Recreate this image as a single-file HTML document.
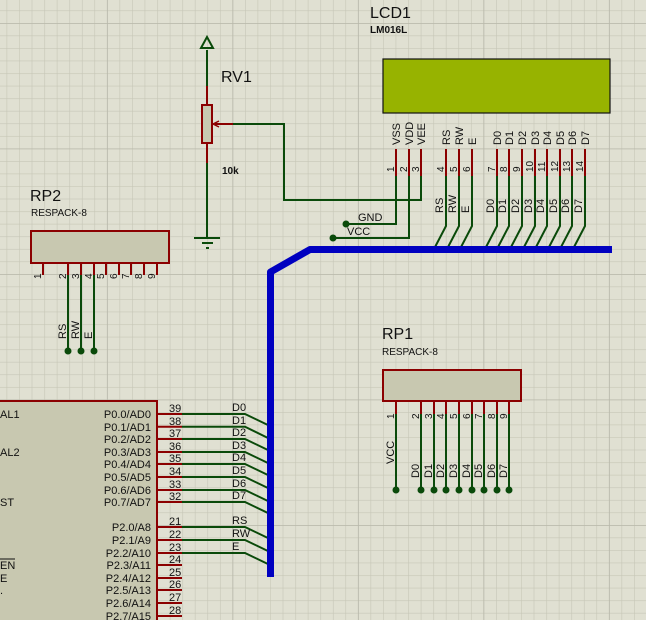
<!DOCTYPE html>
<html><head><meta charset="utf-8"><style>
html,body{margin:0;padding:0;background:#e0e0d2}
svg{display:block}
text{font-family:"Liberation Sans",sans-serif;fill:#111}
</style></head><body>
<svg width="646" height="620" viewBox="0 0 646 620" xmlns="http://www.w3.org/2000/svg">
<defs>
<pattern id="g" x="6.6" y="10.45" width="12.55" height="12.55" patternUnits="userSpaceOnUse">
<path d="M0 0H12.55M0 0V12.55" stroke="#c6c6b6" stroke-width="1.2" fill="none"/>
</pattern>
<pattern id="G" x="106.9" y="23" width="125.5" height="125.5" patternUnits="userSpaceOnUse">
<path d="M0 0H125.5M0 0V125.5" stroke="#b8b8aa" stroke-width="1.6" fill="none"/>
</pattern>
</defs>
<rect width="646" height="620" fill="#e0e0d2"/>
<rect width="646" height="620" fill="url(#g)"/>
<rect width="646" height="620" fill="url(#G)"/>

<!-- LCD -->
<text x="370" y="18" font-size="16">LCD1</text>
<text x="370" y="33" font-size="10" font-weight="bold" fill="#222">LM016L</text>
<rect x="383" y="59" width="227" height="54" fill="#97b300" stroke="#111" stroke-width="1.2"/>
<g stroke="#8b0000" stroke-width="2">
<path d="M396 149V176M409 149V176M421 149V176M446 149V176M459 149V176M472 149V176M497 149V176M509 149V176M522 149V176M535 149V176M547 149V176M560 149V176M572 149V176M585 149V176"/>
</g>
<g font-size="11">
<text transform="translate(400,145) rotate(-90)">VSS</text>
<text transform="translate(413,145) rotate(-90)">VDD</text>
<text transform="translate(425,145) rotate(-90)">VEE</text>
<text transform="translate(450,145) rotate(-90)">RS</text>
<text transform="translate(463,145) rotate(-90)">RW</text>
<text transform="translate(476,145) rotate(-90)">E</text>
<text transform="translate(501,145) rotate(-90)">D0</text>
<text transform="translate(513,145) rotate(-90)">D1</text>
<text transform="translate(526,145) rotate(-90)">D2</text>
<text transform="translate(539,145) rotate(-90)">D3</text>
<text transform="translate(551,145) rotate(-90)">D4</text>
<text transform="translate(564,145) rotate(-90)">D5</text>
<text transform="translate(576,145) rotate(-90)">D6</text>
<text transform="translate(589,145) rotate(-90)">D7</text>
</g>
<g font-size="10">
<text transform="translate(394,172) rotate(-90)">1</text>
<text transform="translate(407,172) rotate(-90)">2</text>
<text transform="translate(419,172) rotate(-90)">3</text>
<text transform="translate(444,172) rotate(-90)">4</text>
<text transform="translate(457,172) rotate(-90)">5</text>
<text transform="translate(470,172) rotate(-90)">6</text>
<text transform="translate(495,172) rotate(-90)">7</text>
<text transform="translate(507,172) rotate(-90)">8</text>
<text transform="translate(520,172) rotate(-90)">9</text>
<text transform="translate(533,172) rotate(-90)">10</text>
<text transform="translate(545,172) rotate(-90)">11</text>
<text transform="translate(558,172) rotate(-90)">12</text>
<text transform="translate(570,172) rotate(-90)">13</text>
<text transform="translate(583,172) rotate(-90)">14</text>
</g>
<g stroke="#0a4a0a" stroke-width="2" fill="none">
<path d="M396 176V224H346M409 176V238H333M421 176V200H284V124H233"/>
<path d="M446 176V226L434 249M459 176V226L447 249M472 176V226L460 249M497 176V226L485 249M509 176V226L497 249M522 176V226L510 249M535 176V226L523 249M547 176V226L535 249M560 176V226L548 249M572 176V226L560 249M585 176V226L573 249"/>
</g>
<g font-size="11">
<text transform="translate(443,213) rotate(-90)">RS</text>
<text transform="translate(456,213) rotate(-90)">RW</text>
<text transform="translate(469,213) rotate(-90)">E</text>
<text transform="translate(494,213) rotate(-90)">D0</text>
<text transform="translate(506,213) rotate(-90)">D1</text>
<text transform="translate(519,213) rotate(-90)">D2</text>
<text transform="translate(532,213) rotate(-90)">D3</text>
<text transform="translate(544,213) rotate(-90)">D4</text>
<text transform="translate(557,213) rotate(-90)">D5</text>
<text transform="translate(569,213) rotate(-90)">D6</text>
<text transform="translate(582,213) rotate(-90)">D7</text>
</g>
<circle cx="346" cy="224" r="3.5" fill="#0a4a0a"/>
<circle cx="333" cy="238" r="3.5" fill="#0a4a0a"/>
<text x="358" y="221" font-size="11">GND</text>
<text x="347" y="235" font-size="11">VCC</text>

<!-- RV1 -->
<text x="221" y="82" font-size="16">RV1</text>
<text x="222" y="174" font-size="10" font-weight="bold" fill="#222">10k</text>
<path d="M207 50V86M207 163V238" stroke="#0a4a0a" stroke-width="2"/>
<path d="M207 86V105M207 143V163M215 124H233" stroke="#8b0000" stroke-width="2"/>
<path d="M207 37L201 48H213Z" fill="none" stroke="#0a4a0a" stroke-width="2"/>
<rect x="202" y="105" width="10" height="38" fill="#c8c8b0" stroke="#8b0000" stroke-width="2"/>
<path d="M213 124L219 121M213 124L219 127" stroke="#8b0000" stroke-width="1.5"/>
<path d="M194 238H220M202 243H213M206 248H209" stroke="#0a4a0a" stroke-width="2"/>

<!-- RP2 -->
<text x="30" y="201" font-size="16">RP2</text>
<text x="31" y="216" font-size="10" fill="#222">RESPACK-8</text>
<rect x="31" y="231" width="138" height="32" fill="#c8c8b0" stroke="#8b0000" stroke-width="2"/>
<path d="M43 263V275M68 263V275M81 263V275M94 263V275M106 263V275M119 263V275M131 263V275M144 263V275M157 263V275" stroke="#8b0000" stroke-width="2"/>
<path d="M68 275V351M81 275V351M94 275V351" stroke="#0a4a0a" stroke-width="2"/>
<g fill="#0a4a0a"><circle cx="68" cy="351" r="3.5"/><circle cx="81" cy="351" r="3.5"/><circle cx="94" cy="351" r="3.5"/></g>
<g font-size="10">
<text transform="translate(41,279) rotate(-90)">1</text>
<text transform="translate(66,279) rotate(-90)">2</text>
<text transform="translate(79,279) rotate(-90)">3</text>
<text transform="translate(92,279) rotate(-90)">4</text>
<text transform="translate(104,279) rotate(-90)">5</text>
<text transform="translate(117,279) rotate(-90)">6</text>
<text transform="translate(129,279) rotate(-90)">7</text>
<text transform="translate(142,279) rotate(-90)">8</text>
<text transform="translate(155,279) rotate(-90)">9</text>
</g>
<g font-size="11">
<text transform="translate(66,339) rotate(-90)">RS</text>
<text transform="translate(79,339) rotate(-90)">RW</text>
<text transform="translate(92,339) rotate(-90)">E</text>
</g>

<!-- RP1 -->
<text x="382" y="339" font-size="16">RP1</text>
<text x="382" y="355" font-size="10" fill="#222">RESPACK-8</text>
<rect x="383" y="370" width="138" height="31" fill="#c8c8b0" stroke="#8b0000" stroke-width="2"/>
<path d="M396 401V414M421 401V414M434 401V414M446 401V414M459 401V414M472 401V414M484 401V414M497 401V414M509 401V414" stroke="#8b0000" stroke-width="2"/>
<path d="M396 414V490M421 414V490M434 414V490M446 414V490M459 414V490M472 414V490M484 414V490M497 414V490M509 414V490" stroke="#0a4a0a" stroke-width="2"/>
<g fill="#0a4a0a"><circle cx="396" cy="490" r="3.5"/><circle cx="421" cy="490" r="3.5"/><circle cx="434" cy="490" r="3.5"/><circle cx="446" cy="490" r="3.5"/><circle cx="459" cy="490" r="3.5"/><circle cx="472" cy="490" r="3.5"/><circle cx="484" cy="490" r="3.5"/><circle cx="497" cy="490" r="3.5"/><circle cx="509" cy="490" r="3.5"/></g>
<g font-size="10">
<text transform="translate(394,419) rotate(-90)">1</text>
<text transform="translate(419,419) rotate(-90)">2</text>
<text transform="translate(432,419) rotate(-90)">3</text>
<text transform="translate(444,419) rotate(-90)">4</text>
<text transform="translate(457,419) rotate(-90)">5</text>
<text transform="translate(470,419) rotate(-90)">6</text>
<text transform="translate(482,419) rotate(-90)">7</text>
<text transform="translate(495,419) rotate(-90)">8</text>
<text transform="translate(507,419) rotate(-90)">9</text>
</g>
<g font-size="11">
<text transform="translate(394,464) rotate(-90)">VCC</text>
<text transform="translate(419,478) rotate(-90)">D0</text>
<text transform="translate(432,478) rotate(-90)">D1</text>
<text transform="translate(444,478) rotate(-90)">D2</text>
<text transform="translate(457,478) rotate(-90)">D3</text>
<text transform="translate(470,478) rotate(-90)">D4</text>
<text transform="translate(482,478) rotate(-90)">D5</text>
<text transform="translate(495,478) rotate(-90)">D6</text>
<text transform="translate(507,478) rotate(-90)">D7</text>
</g>

<!-- MCU -->
<rect x="-10" y="401" width="167" height="230" fill="#c8c8b0" stroke="#8b0000" stroke-width="2"/>
<g stroke="#8b0000" stroke-width="2">
<path d="M157 414H182M157 426.7H182M157 439H182M157 452H182M157 464H182M157 477H182M157 490H182M157 502H182M157 527H182M157 540H182M157 553H182M157 565H182M157 578H182M157 590H182M157 603H182M157 616H182"/>
</g>
<g stroke="#0a4a0a" stroke-width="2" fill="none">
<path d="M182 414H245L270 426M182 426.7H245L270 439M182 439H245L270 451M182 452H245L270 464M182 464H245L270 476M182 477H245L270 489M182 490H245L270 502M182 502H245L270 514M182 527H245L270 539M182 540H245L270 552M182 553H245L270 565"/>
</g>
<g font-size="11" text-anchor="end">
<text x="151" y="418">P0.0/AD0</text>
<text x="151" y="431">P0.1/AD1</text>
<text x="151" y="443">P0.2/AD2</text>
<text x="151" y="456">P0.3/AD3</text>
<text x="151" y="468">P0.4/AD4</text>
<text x="151" y="481">P0.5/AD5</text>
<text x="151" y="494">P0.6/AD6</text>
<text x="151" y="506">P0.7/AD7</text>
<text x="151" y="531">P2.0/A8</text>
<text x="151" y="544">P2.1/A9</text>
<text x="151" y="557">P2.2/A10</text>
<text x="151" y="569">P2.3/A11</text>
<text x="151" y="582">P2.4/A12</text>
<text x="151" y="594">P2.5/A13</text>
<text x="151" y="607">P2.6/A14</text>
<text x="151" y="620">P2.7/A15</text>
</g>
<g font-size="11">
<text x="0" y="418">AL1</text>
<text x="0" y="456">AL2</text>
<text x="0" y="506">ST</text>
<text x="0" y="569">EN</text>
<path d="M0 559H15" stroke="#111" stroke-width="1"/>
<text x="0" y="582">E</text>
<text x="0" y="594">.</text>
</g>
<g font-size="11">
<text x="169" y="412">39</text>
<text x="169" y="425">38</text>
<text x="169" y="437">37</text>
<text x="169" y="450">36</text>
<text x="169" y="462">35</text>
<text x="169" y="475">34</text>
<text x="169" y="488">33</text>
<text x="169" y="500">32</text>
<text x="169" y="525">21</text>
<text x="169" y="538">22</text>
<text x="169" y="551">23</text>
<text x="169" y="563">24</text>
<text x="169" y="576">25</text>
<text x="169" y="588">26</text>
<text x="169" y="601">27</text>
<text x="169" y="614">28</text>
<text x="232" y="411">D0</text>
<text x="232" y="424">D1</text>
<text x="232" y="436">D2</text>
<text x="232" y="449">D3</text>
<text x="232" y="461">D4</text>
<text x="232" y="474">D5</text>
<text x="232" y="487">D6</text>
<text x="232" y="499">D7</text>
<text x="232" y="524">RS</text>
<text x="232" y="537">RW</text>
<text x="232" y="550">E</text>
</g>

<!-- Bus -->
<path d="M612 249.5H310L270.5 272V577" stroke="#0000c0" stroke-width="7" fill="none" stroke-linejoin="round"/>
</svg>
</body></html>
